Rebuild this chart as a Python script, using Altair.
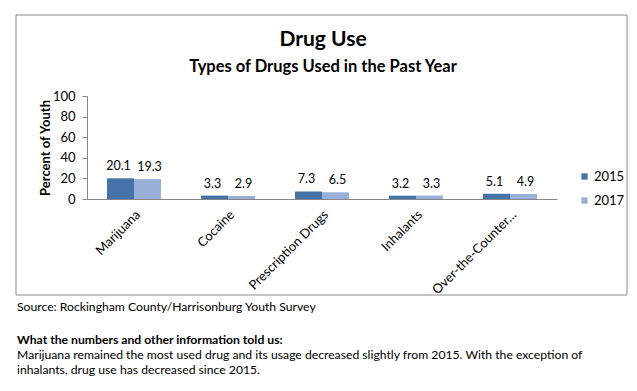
import altair as alt
import pandas as pd

categories = ["Marijuana", "Cocaine", "Prescription Drugs", "Inhalants", "Over-the-Counter…"]
years = ["2015", "2017"]
values_2015 = [20.1, 3.3, 7.3, 3.2, 5.1]
values_2017 = [19.3, 2.9, 6.5, 3.3, 4.9]
y_ticks = [0, 20, 40, 60, 80, 100]
colors = ["#4572A7", "#98AFD7"]

title_text = "Drug Use"
subtitle_text = "Types of Drugs Used in the Past Year"
source_text = "Source: Rockingham County/Harrisonburg Youth Survey"
note_head = "What the numbers and other information told us:"
note_lines = [
    "Marijuana remained the most used drug and its usage decreased slightly from 2015. With the exception of",
    "inhalants, drug use has decreased since 2015.",
]

rows = []
for c, a, b in zip(categories, values_2015, values_2017):
    rows.append({"Drug": c, "Year": years[0], "Percent": a})
    rows.append({"Drug": c, "Year": years[1], "Percent": b})
df = pd.DataFrame(rows)

FONT = "Lato"
W, H = 470, 103

x_enc = alt.X(
    "Drug:N",
    sort=categories,
    scale=alt.Scale(paddingInner=0.426, paddingOuter=0.213),
    axis=alt.Axis(
        title=None, labelAngle=-45, labelAlign="right", labelBaseline="top",
        labelFontSize=13, labelFont=FONT, labelColor="#000", labelPadding=9,
        ticks=False, domainColor="#868686", labelLimit=200,
    ),
)
xoff = alt.XOffset("Year:N", sort=years, scale=alt.Scale(paddingInner=0, paddingOuter=0))
y_enc = alt.Y(
    "Percent:Q",
    scale=alt.Scale(domain=[0, 100], nice=False),
    axis=alt.Axis(
        values=y_ticks, grid=False, title="Percent of Youth",
        titleFont=FONT, titleFontSize=13, titleFontWeight="bold", titleColor="#000",
        titleAngle=270, titleX=-42, titleY=H / 2, titleAlign="center", titleBaseline="middle",
        labelFont=FONT, labelFontSize=13, labelColor="#000", labelPadding=7,
        tickSize=5, tickColor="#868686", domainColor="#868686",
    ),
)

base = alt.Chart(df)
bars = base.mark_bar().encode(
    x=x_enc, xOffset=xoff, y=y_enc,
    color=alt.Color(
        "Year:N",
        scale=alt.Scale(domain=years, range=colors),
        legend=alt.Legend(
            title=None, orient="none", legendX=491, legendY=74,
            symbolType="square", symbolSize=40, symbolStrokeWidth=0,
            labelFont=FONT, labelFontSize=13, labelColor="#000",
            rowPadding=10, labelOffset=3,
        ),
    ),
)


def value_labels(year, dx):
    return base.transform_filter(alt.datum.Year == year).mark_text(
        font=FONT, fontSize=12.5, color="#000", baseline="middle", dy=-12, dx=dx
    ).encode(x=x_enc, xOffset=xoff, y=y_enc, text=alt.Text("Percent:Q", format=".1f"))


labels_a = value_labels(years[0], -2)
labels_b = value_labels(years[1], 2)

one = pd.DataFrame({"a": [0]})
box = alt.Chart(one).mark_rect(fill="white", fillOpacity=0, stroke="#8a8a8a", strokeWidth=1).encode(
    x=alt.value(-71), x2=alt.value(540), y=alt.value(-81), y2=alt.value(199)
)


def txt(s, xp, yp, size, bold=False, align="left"):
    return alt.Chart(pd.DataFrame({"t": [s]})).mark_text(
        align=align, baseline="middle", fontSize=size,
        fontWeight="bold" if bold else "normal", font=FONT, color="#000",
    ).encode(x=alt.value(xp), y=alt.value(yp), text="t:N")


texts = [
    txt(title_text, 236, -56, 21, bold=True, align="center"),
    txt(subtitle_text, 236, -29, 16.5, bold=True, align="center"),
    txt(source_text, -70, 211, 12.2),
    txt(note_head, -70, 244, 12.2, bold=True),
    txt(note_lines[0], -70, 259, 12.2),
    txt(note_lines[1], -70, 274, 12.2),
]

chart = alt.layer(box, bars, labels_a, labels_b, *texts).properties(
    width=W, height=H,
    padding={"left": 79, "top": 88, "right": 72, "bottom": 181},
    autosize=alt.AutoSizeParams(type="none"),
    background="white",
).configure_view(stroke=None)

chart.save("out.html", embed_options={"renderer": "svg", "actions": False})
